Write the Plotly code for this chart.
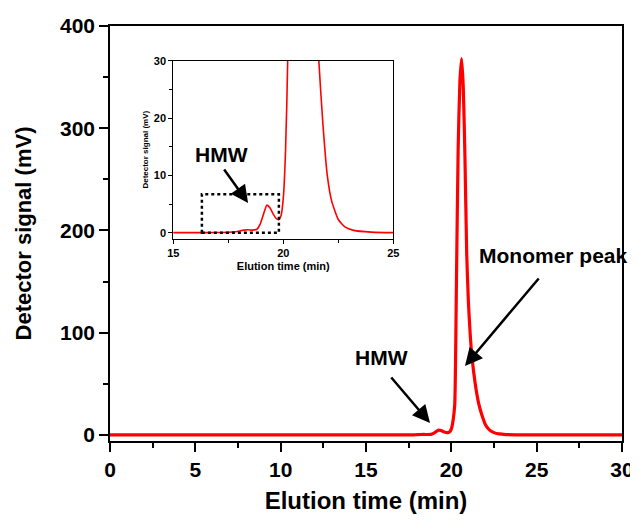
import plotly.graph_objects as go

# ---- data ----
time_min = [0, 2, 4, 6, 8, 10, 12, 14, 15, 16, 17, 17.5, 17.8, 18.0, 18.2, 18.4, 18.6,
            18.8, 18.95, 19.1, 19.25, 19.4, 19.55, 19.7, 19.8, 19.9, 20.0, 20.1, 20.2,
            20.3, 20.4, 20.5, 20.6, 20.7, 20.8, 20.9, 21.0, 21.1, 21.2, 21.4, 21.6,
            21.8, 22.0, 22.2, 22.5, 22.8, 23.2, 24, 25, 26, 28, 30]
signal_mv = [0, 0, 0, 0, 0, 0, 0, 0, 0, 0, 0.02, 0.05, 0.15, 0.3, 0.45, 0.5, 0.45,
             0.6, 1.5, 3.2, 4.8, 4.3, 3.2, 2.4, 2.3, 3.0, 6, 14, 30,
             150, 280, 345, 368, 340, 270, 178, 130, 100, 78, 50, 31,
             19, 10, 5.5, 2.3, 1.0, 0.4, 0.1, 0, 0, 0, 0]

main_xticks = [0, 5, 10, 15, 20, 25, 30]
main_yticks = [0, 100, 200, 300, 400]
inset_xticks = [15, 20, 25]
inset_yticks = [0, 10, 20, 30]
hmw_box_x = [16.3, 19.8]
hmw_box_y = [0, 6.7]

FONT = "Liberation Sans, Arial, sans-serif"
RED = "#ff0000"

fig = go.Figure()
fig.add_trace(go.Scatter(x=time_min, y=signal_mv, mode="lines",
                         line=dict(color=RED, width=3.2, shape="spline", smoothing=0.5),
                         xaxis="x", yaxis="y", showlegend=False, hoverinfo="skip"))
fig.add_trace(go.Scatter(x=time_min, y=signal_mv, mode="lines",
                         line=dict(color=RED, width=1.6, shape="spline", smoothing=0.5),
                         xaxis="x2", yaxis="y2", showlegend=False, hoverinfo="skip"))

axis_common = dict(showline=True, linecolor="black", linewidth=1.5, mirror=True,
                   showgrid=False, zeroline=False, ticks="outside", tickcolor="black",
                   tickwidth=1.5, automargin=False)

# page body has an 8px margin, so the figure is sized/offset to compensate
fig.update_layout(
    width=630, height=514,
    margin=dict(l=102, r=16, t=18, b=81),
    paper_bgcolor="white", plot_bgcolor="white",
    font=dict(family=FONT, color="black"),
    xaxis=dict(**axis_common, range=[0, 30], tickvals=main_xticks, ticklen=9,
               minor=dict(dtick=2.5, ticks="outside", ticklen=5, tickcolor="black", tickwidth=1.5),
               tickfont=dict(size=21, family=FONT, weight="bold"),
               title=dict(text="Elution time (min)", standoff=12,
                          font=dict(size=24, family=FONT, weight="bold")),
               domain=[0, 1]),
    yaxis=dict(**axis_common, range=[-5.9, 400], tickvals=main_yticks, ticklen=9,
               minor=dict(dtick=50, ticks="outside", ticklen=5, tickcolor="black", tickwidth=1.5),
               tickfont=dict(size=21, family=FONT, weight="bold"),
               title=dict(text="Detector signal (mV)", standoff=22,
                          font=dict(size=22, family=FONT, weight="bold")),
               domain=[0, 1]),
    xaxis2=dict(showline=True, linecolor="black", linewidth=1, mirror=True,
                showgrid=False, zeroline=False, ticks="outside", tickcolor="black",
                tickwidth=1, ticklen=4, range=[15, 25], tickvals=inset_xticks,
                minor=dict(dtick=2.5, ticks="outside", ticklen=3, tickcolor="black", tickwidth=1),
                tickfont=dict(size=11, family=FONT, weight="bold"),
                title=dict(text="Elution time (min)", standoff=4,
                           font=dict(size=11, family=FONT, weight="bold")),
                domain=[0.1236, 0.5533], anchor="y2", automargin=False),
    yaxis2=dict(showline=True, linecolor="black", linewidth=1, mirror=True,
                showgrid=False, zeroline=False, ticks="outside", tickcolor="black",
                tickwidth=1, ticklen=4, range=[-1.05, 30], tickvals=inset_yticks,
                minor=dict(dtick=5, ticks="outside", ticklen=3, tickcolor="black", tickwidth=1),
                tickfont=dict(size=11, family=FONT, weight="bold"),
                title=dict(text="Detector signal (mV)", standoff=4,
                           font=dict(size=8, family=FONT, weight="bold")),
                domain=[0.4875, 0.9164], anchor="x2", automargin=False),
)

# dotted HMW box in inset
fig.add_shape(type="rect", xref="x2", yref="y2",
              x0=hmw_box_x[0], x1=hmw_box_x[1], y0=hmw_box_y[0], y1=hmw_box_y[1],
              line=dict(color="black", width=2.5, dash="dot"))

ann_font = dict(size=21, family=FONT, weight="bold", color="black")
annotations = [
    # main chart
    dict(x=25.96, y=176, xref="x", yref="y", text="Monomer peak", showarrow=False,
         font=ann_font),
    dict(x=20.8, y=67.5, xref="x", yref="y", text="", showarrow=True, ax=75, ay=-89,
         arrowhead=2, arrowsize=1.4, arrowwidth=2.5, arrowcolor="black"),
    dict(x=15.88, y=75.3, xref="x", yref="y", text="HMW", showarrow=False, font=ann_font),
    dict(x=18.75, y=11.7, xref="x", yref="y", text="", showarrow=True, ax=-40, ay=-47,
         arrowhead=2, arrowsize=1.4, arrowwidth=2.5, arrowcolor="black"),
    # inset
    dict(x=17.21, y=13.55, xref="x2", yref="y2", text="HMW", showarrow=False, font=ann_font),
    dict(x=18.4, y=5.18, xref="x2", yref="y2", text="", showarrow=True, ax=-25, ay=-35,
         arrowhead=2, arrowsize=1.4, arrowwidth=2.5, arrowcolor="black"),
]
fig.update_layout(annotations=annotations)

fig.write_html("out.html")
